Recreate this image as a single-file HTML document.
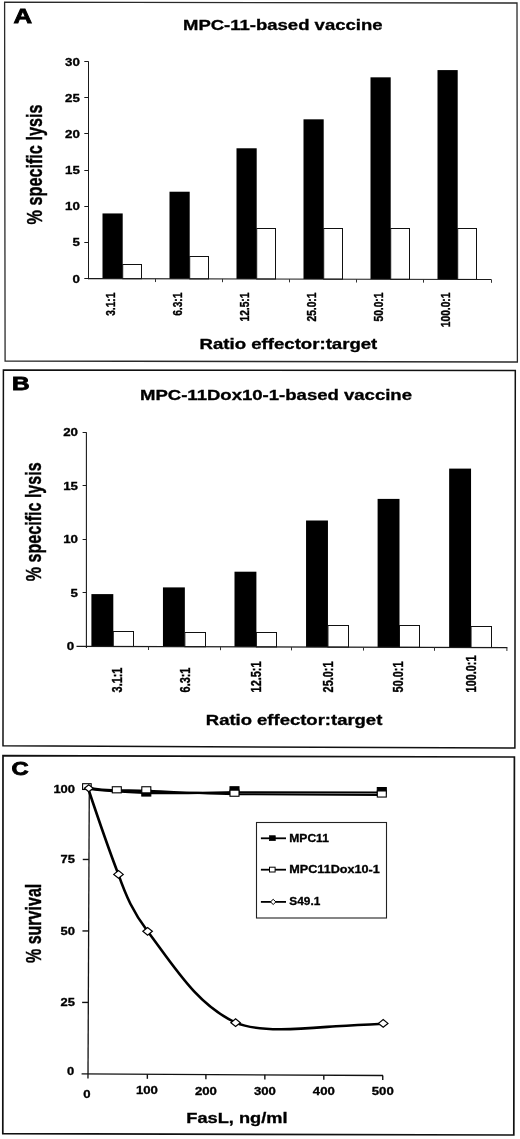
<!DOCTYPE html>
<html><head><meta charset="utf-8"><title>Figure</title>
<style>
html,body{margin:0;padding:0;background:#fff;}
svg{display:block;font-family:"Liberation Sans", sans-serif;will-change:transform;filter:grayscale(1) blur(0.25px);}
text{font-family:"Liberation Sans", sans-serif;stroke:#000;stroke-width:0.3px;}
text.pl{stroke-width:0.8px;}
</style></head><body>
<svg width="520" height="1139" viewBox="0 0 520 1139">
<rect x="0" y="0" width="520" height="1139" fill="#fff"/>
<polygon points="4.6,2.2 517.0,3.0 517.4,362.0 5.1,361.0" fill="none" stroke="#2a2a2a" stroke-width="1.3"/>
<text class="pl" x="13.6" y="23.0" font-size="19.8" font-weight="bold" text-anchor="start" fill="#000" textLength="18.6" lengthAdjust="spacingAndGlyphs">A</text>
<text x="183" y="30" font-size="14" font-weight="bold" text-anchor="start" fill="#000" textLength="199.5" lengthAdjust="spacingAndGlyphs">MPC-11-based vaccine</text>
<rect x="102.5" y="213.44" width="20.2" height="65.21" fill="#000" stroke="none" stroke-width="1"/>
<rect x="122.7" y="264.5" width="18.8" height="14.2" fill="#fff" stroke="#111" stroke-width="1"/>
<text transform="translate(115.0,292.6) rotate(-90) scale(1,1.32)" font-size="10.2" font-weight="bold" text-anchor="end">3.1:1</text>
<rect x="169.5" y="191.72" width="20.2" height="87.08" fill="#000" stroke="none" stroke-width="1"/>
<rect x="189.7" y="256.5" width="18.8" height="22.35" fill="#fff" stroke="#111" stroke-width="1"/>
<text transform="translate(182.0,292.6) rotate(-90) scale(1,1.32)" font-size="10.2" font-weight="bold" text-anchor="end">6.3:1</text>
<rect x="236.5" y="148.28" width="20.2" height="130.67" fill="#000" stroke="none" stroke-width="1"/>
<rect x="256.7" y="228.5" width="18.8" height="50.5" fill="#fff" stroke="#111" stroke-width="1"/>
<text transform="translate(249.0,292.6) rotate(-90) scale(1,1.32)" font-size="10.2" font-weight="bold" text-anchor="end">12.5:1</text>
<rect x="303.5" y="119.32" width="20.2" height="159.78" fill="#000" stroke="none" stroke-width="1"/>
<rect x="323.7" y="228.5" width="18.8" height="50.65" fill="#fff" stroke="#111" stroke-width="1"/>
<text transform="translate(316.0,292.6) rotate(-90) scale(1,1.32)" font-size="10.2" font-weight="bold" text-anchor="end">25.0:1</text>
<rect x="370.5" y="77.33" width="20.2" height="201.92" fill="#000" stroke="none" stroke-width="1"/>
<rect x="390.7" y="228.5" width="18.8" height="50.8" fill="#fff" stroke="#111" stroke-width="1"/>
<text transform="translate(383.0,292.6) rotate(-90) scale(1,1.32)" font-size="10.2" font-weight="bold" text-anchor="end">50.0:1</text>
<rect x="437.5" y="70.09" width="20.2" height="209.31" fill="#000" stroke="none" stroke-width="1"/>
<rect x="457.7" y="228.5" width="18.8" height="50.95" fill="#fff" stroke="#111" stroke-width="1"/>
<text transform="translate(450.0,292.6) rotate(-90) scale(1,1.32)" font-size="10.2" font-weight="bold" text-anchor="end">100.0:1</text>
<line x1="88.5" y1="61.4" x2="88.5" y2="279.1" stroke="#1a1a1a" stroke-width="1.0"/>
<line x1="88.0" y1="278.6" x2="491.3" y2="279.5" stroke="#1a1a1a" stroke-width="1.1"/>
<line x1="84.3" y1="278.5" x2="88.5" y2="278.5" stroke="#1a1a1a" stroke-width="1.0"/>
<text x="79.8" y="282.6" font-size="10.2" font-weight="bold" text-anchor="end" fill="#000" textLength="7.4" lengthAdjust="spacingAndGlyphs">0</text>
<line x1="84.3" y1="242.5" x2="88.5" y2="242.5" stroke="#1a1a1a" stroke-width="1.0"/>
<text x="79.8" y="246.4" font-size="10.2" font-weight="bold" text-anchor="end" fill="#000" textLength="7.4" lengthAdjust="spacingAndGlyphs">5</text>
<line x1="84.3" y1="206.5" x2="88.5" y2="206.5" stroke="#1a1a1a" stroke-width="1.0"/>
<text x="79.8" y="210.2" font-size="10.2" font-weight="bold" text-anchor="end" fill="#000" textLength="14.8" lengthAdjust="spacingAndGlyphs">10</text>
<line x1="84.3" y1="170.5" x2="88.5" y2="170.5" stroke="#1a1a1a" stroke-width="1.0"/>
<text x="79.8" y="174.0" font-size="10.2" font-weight="bold" text-anchor="end" fill="#000" textLength="14.8" lengthAdjust="spacingAndGlyphs">15</text>
<line x1="84.3" y1="133.5" x2="88.5" y2="133.5" stroke="#1a1a1a" stroke-width="1.0"/>
<text x="79.8" y="137.8" font-size="10.2" font-weight="bold" text-anchor="end" fill="#000" textLength="14.8" lengthAdjust="spacingAndGlyphs">20</text>
<line x1="84.3" y1="97.5" x2="88.5" y2="97.5" stroke="#1a1a1a" stroke-width="1.0"/>
<text x="79.8" y="101.6" font-size="10.2" font-weight="bold" text-anchor="end" fill="#000" textLength="14.8" lengthAdjust="spacingAndGlyphs">25</text>
<line x1="84.3" y1="61.5" x2="88.5" y2="61.5" stroke="#1a1a1a" stroke-width="1.0"/>
<text x="79.8" y="66.0" font-size="10.2" font-weight="bold" text-anchor="end" fill="#000" textLength="14.8" lengthAdjust="spacingAndGlyphs">30</text>
<line x1="155.5" y1="278.75" x2="155.5" y2="282.05" stroke="#333" stroke-width="1.0"/>
<line x1="222.5" y1="278.9" x2="222.5" y2="282.2" stroke="#333" stroke-width="1.0"/>
<line x1="289.5" y1="279.05" x2="289.5" y2="282.35" stroke="#333" stroke-width="1.0"/>
<line x1="356.5" y1="279.2" x2="356.5" y2="282.5" stroke="#333" stroke-width="1.0"/>
<line x1="423.5" y1="279.35" x2="423.5" y2="282.65" stroke="#333" stroke-width="1.0"/>
<line x1="491.5" y1="279.5" x2="491.5" y2="282.8" stroke="#333" stroke-width="1.0"/>
<text x="199.6" y="348.8" font-size="14" font-weight="bold" text-anchor="start" fill="#000" textLength="177.7" lengthAdjust="spacingAndGlyphs">Ratio effector:target</text>
<text transform="translate(42.4,224.5) rotate(-90) scale(1,1.4)" font-size="15.8" font-weight="bold" text-anchor="start" textLength="120" lengthAdjust="spacingAndGlyphs">% specific lysis</text>
<polygon points="3.4,369.9 515.3,370.6 514.9,748.0 3.0,745.8" fill="none" stroke="#111" stroke-width="1.5"/>
<text class="pl" x="11.9" y="389.7" font-size="18.2" font-weight="bold" text-anchor="start" fill="#000" textLength="17.6" lengthAdjust="spacingAndGlyphs">B</text>
<text x="140" y="399.6" font-size="14" font-weight="bold" text-anchor="start" fill="#000" textLength="272" lengthAdjust="spacingAndGlyphs">MPC-11Dox10-1-based vaccine</text>
<rect x="91.4" y="594.1" width="21.9" height="52.37" fill="#000" stroke="none" stroke-width="1"/>
<rect x="113.3" y="631.5" width="20.2" height="15.03" fill="#fff" stroke="#111" stroke-width="1"/>
<text transform="translate(122.1,692.4) rotate(-90) scale(1,1.28)" font-size="10.9" font-weight="bold" text-anchor="start">3.1:1</text>
<rect x="162.95" y="587.4" width="21.9" height="59.27" fill="#000" stroke="none" stroke-width="1"/>
<rect x="184.85" y="632.5" width="20.65" height="14.23" fill="#fff" stroke="#111" stroke-width="1"/>
<text transform="translate(189.9,692.4) rotate(-90) scale(1,1.28)" font-size="10.9" font-weight="bold" text-anchor="start">6.3:1</text>
<rect x="234.5" y="571.7" width="21.9" height="75.17" fill="#000" stroke="none" stroke-width="1"/>
<rect x="256.4" y="632.5" width="20.1" height="14.43" fill="#fff" stroke="#111" stroke-width="1"/>
<text transform="translate(261.3,692.4) rotate(-90) scale(1,1.28)" font-size="10.9" font-weight="bold" text-anchor="start">12.5:1</text>
<rect x="306.05" y="520.5" width="21.9" height="126.57" fill="#000" stroke="none" stroke-width="1"/>
<rect x="327.95" y="625.5" width="20.55" height="21.63" fill="#fff" stroke="#111" stroke-width="1"/>
<text transform="translate(333.0,692.4) rotate(-90) scale(1,1.28)" font-size="10.9" font-weight="bold" text-anchor="start">25.0:1</text>
<rect x="377.6" y="498.9" width="21.9" height="148.37" fill="#000" stroke="none" stroke-width="1"/>
<rect x="399.5" y="625.5" width="20.0" height="21.83" fill="#fff" stroke="#111" stroke-width="1"/>
<text transform="translate(403.0,692.4) rotate(-90) scale(1,1.28)" font-size="10.9" font-weight="bold" text-anchor="start">50.0:1</text>
<rect x="449.15" y="468.6" width="21.9" height="178.87" fill="#000" stroke="none" stroke-width="1"/>
<rect x="471.05" y="626.5" width="20.45" height="21.03" fill="#fff" stroke="#111" stroke-width="1"/>
<text transform="translate(476.2,692.4) rotate(-90) scale(1,1.28)" font-size="10.9" font-weight="bold" text-anchor="start">100.0:1</text>
<line x1="86.4" y1="432.3" x2="86.4" y2="648.0" stroke="#1a1a1a" stroke-width="1.1"/>
<line x1="76.5" y1="646.4" x2="507.4" y2="647.6" stroke="#1a1a1a" stroke-width="1.1"/>
<line x1="82.60000000000001" y1="592.5" x2="86.4" y2="592.5" stroke="#1a1a1a" stroke-width="1.0"/>
<line x1="82.60000000000001" y1="539.5" x2="86.4" y2="539.5" stroke="#1a1a1a" stroke-width="1.0"/>
<line x1="82.60000000000001" y1="485.5" x2="86.4" y2="485.5" stroke="#1a1a1a" stroke-width="1.0"/>
<line x1="82.60000000000001" y1="432.5" x2="86.4" y2="432.5" stroke="#1a1a1a" stroke-width="1.0"/>
<text x="74.2" y="650.2" font-size="10.2" font-weight="bold" text-anchor="end" fill="#000" textLength="7.4" lengthAdjust="spacingAndGlyphs">0</text>
<text x="78" y="596.65" font-size="10.2" font-weight="bold" text-anchor="end" fill="#000" textLength="7.4" lengthAdjust="spacingAndGlyphs">5</text>
<text x="78" y="543.1" font-size="10.2" font-weight="bold" text-anchor="end" fill="#000" textLength="14.8" lengthAdjust="spacingAndGlyphs">10</text>
<text x="78" y="489.55" font-size="10.2" font-weight="bold" text-anchor="end" fill="#000" textLength="14.8" lengthAdjust="spacingAndGlyphs">15</text>
<text x="78" y="436.0" font-size="10.2" font-weight="bold" text-anchor="end" fill="#000" textLength="14.8" lengthAdjust="spacingAndGlyphs">20</text>
<line x1="148.5" y1="646.6" x2="148.5" y2="650.0" stroke="#333" stroke-width="1.0"/>
<line x1="220.5" y1="646.8" x2="220.5" y2="650.2" stroke="#333" stroke-width="1.0"/>
<line x1="291.5" y1="647.0" x2="291.5" y2="650.4" stroke="#333" stroke-width="1.0"/>
<line x1="363.5" y1="647.2" x2="363.5" y2="650.6" stroke="#333" stroke-width="1.0"/>
<line x1="434.5" y1="647.4" x2="434.5" y2="650.8" stroke="#333" stroke-width="1.0"/>
<line x1="506.9" y1="647.6" x2="506.9" y2="651.0" stroke="#333" stroke-width="1.0"/>
<text x="205.8" y="725.3" font-size="14" font-weight="bold" text-anchor="start" fill="#000" textLength="176.5" lengthAdjust="spacingAndGlyphs">Ratio effector:target</text>
<text transform="translate(41.2,581.3) rotate(-90) scale(1,1.4)" font-size="15.8" font-weight="bold" text-anchor="start" textLength="119" lengthAdjust="spacingAndGlyphs">% specific lysis</text>
<polygon points="3.0,755.6 514.4,757.0 513.8,1135.0 2.8,1133.6" fill="none" stroke="#111" stroke-width="1.7"/>
<text class="pl" x="11.6" y="775.2" font-size="18.4" font-weight="bold" text-anchor="start" fill="#000" textLength="17.2" lengthAdjust="spacingAndGlyphs">C</text>
<line x1="89.29" y1="788" x2="87.98" y2="1078.6" stroke="#111" stroke-width="1.3"/>
<line x1="81.6" y1="1073.86" x2="383.0" y2="1075.52" stroke="#111" stroke-width="1.3"/>
<line x1="82.11999999999999" y1="1002.43" x2="88.32" y2="1002.43" stroke="#111" stroke-width="1.4"/>
<line x1="82.44" y1="930.95" x2="88.64" y2="930.95" stroke="#111" stroke-width="1.4"/>
<line x1="82.77" y1="859.48" x2="88.97" y2="859.48" stroke="#111" stroke-width="1.4"/>
<line x1="83.09" y1="788.0" x2="89.29" y2="788.0" stroke="#111" stroke-width="1.4"/>
<text x="74.3" y="1074.7" font-size="10.2" font-weight="bold" text-anchor="end" fill="#000" textLength="7.2" lengthAdjust="spacingAndGlyphs">0</text>
<text x="75" y="1006.23" font-size="10.2" font-weight="bold" text-anchor="end" fill="#000" textLength="14.4" lengthAdjust="spacingAndGlyphs">25</text>
<text x="75" y="934.75" font-size="10.2" font-weight="bold" text-anchor="end" fill="#000" textLength="14.4" lengthAdjust="spacingAndGlyphs">50</text>
<text x="75" y="863.28" font-size="10.2" font-weight="bold" text-anchor="end" fill="#000" textLength="14.4" lengthAdjust="spacingAndGlyphs">75</text>
<text x="75" y="793.2" font-size="10.2" font-weight="bold" text-anchor="end" fill="#000" textLength="21.6" lengthAdjust="spacingAndGlyphs">100</text>
<line x1="147.35" y1="1074.23" x2="147.35" y2="1078.83" stroke="#111" stroke-width="1.4"/>
<line x1="205.9" y1="1074.55" x2="205.9" y2="1079.1499999999999" stroke="#111" stroke-width="1.4"/>
<line x1="264.85" y1="1074.87" x2="264.85" y2="1079.4699999999998" stroke="#111" stroke-width="1.4"/>
<line x1="323.8" y1="1075.2" x2="323.8" y2="1079.8" stroke="#111" stroke-width="1.4"/>
<line x1="382.75" y1="1075.52" x2="382.75" y2="1080.12" stroke="#111" stroke-width="1.4"/>
<text x="83.35" y="1097.6" font-size="10.2" font-weight="bold" text-anchor="start" fill="#000" textLength="7.3" lengthAdjust="spacingAndGlyphs">0</text>
<text x="136.0" y="1094.3" font-size="10.2" font-weight="bold" text-anchor="start" fill="#000" textLength="21.9" lengthAdjust="spacingAndGlyphs">100</text>
<text x="194.95" y="1094.9" font-size="10.2" font-weight="bold" text-anchor="start" fill="#000" textLength="21.9" lengthAdjust="spacingAndGlyphs">200</text>
<text x="253.9" y="1095" font-size="10.2" font-weight="bold" text-anchor="start" fill="#000" textLength="21.9" lengthAdjust="spacingAndGlyphs">300</text>
<text x="312.85" y="1095" font-size="10.2" font-weight="bold" text-anchor="start" fill="#000" textLength="21.9" lengthAdjust="spacingAndGlyphs">400</text>
<text x="371.8" y="1095" font-size="10.2" font-weight="bold" text-anchor="start" fill="#000" textLength="21.9" lengthAdjust="spacingAndGlyphs">500</text>
<text x="186.3" y="1122.5" font-size="14" font-weight="bold" text-anchor="start" fill="#000" textLength="101.2" lengthAdjust="spacingAndGlyphs">FasL, ng/ml</text>
<text transform="translate(40.5,963.1) rotate(-90) scale(1,1.4)" font-size="15.8" font-weight="bold" text-anchor="start" textLength="79.4" lengthAdjust="spacingAndGlyphs">% survival</text>
<path d="M88,788 C97,815 109,850 118.4,874.4 C126,896 133,912 147.6,931.3 C175.5,968.5 197,1004.6 235.6,1022.6 C246,1027 260,1029.2 280,1029.3 C300,1029.4 318,1027.6 336,1026.2 C352,1025.2 368,1024.4 383.2,1023.7" fill="none" stroke="#000" stroke-width="2.6" stroke-linejoin="round"/>
<path d="M88,788.6 C100,790.6 125,791.8 146.5,793.0 C180,793.6 210,792.6 234.5,792.3" fill="none" stroke="#000" stroke-width="2.4"/>
<path d="M234.5,792.2 C290,792.3 340,792.4 381.8,792.5" fill="none" stroke="#000" stroke-width="1.9"/>
<path d="M88,788 C100,790 108,790.3 116.8,790.4 C128,790.6 138,790.6 146.5,790.9 C180,792.4 210,793.6 234.5,794.0" fill="none" stroke="#000" stroke-width="2.4"/>
<path d="M234.5,794.2 C290,794.5 340,794.9 381.8,795.0" fill="none" stroke="#000" stroke-width="1.9"/>
<rect x="141.8" y="789.95" width="9.0" height="6.1" fill="#000" stroke="#000" stroke-width="1.1"/>
<rect x="230.0" y="786.75" width="9.0" height="6.1" fill="#000" stroke="#000" stroke-width="1.1"/>
<rect x="377.3" y="787.55" width="9.0" height="6.1" fill="#000" stroke="#000" stroke-width="1.1"/>
<rect x="82.6" y="783.7" width="8.6" height="5.8" fill="#fff" stroke="#000" stroke-width="1.1"/>
<rect x="112.3" y="786.75" width="9.0" height="6.1" fill="#fff" stroke="#000" stroke-width="1.1"/>
<rect x="141.8" y="786.75" width="9.0" height="6.1" fill="#fff" stroke="#000" stroke-width="1.1"/>
<rect x="230.0" y="790.15" width="9.0" height="6.1" fill="#fff" stroke="#000" stroke-width="1.1"/>
<rect x="377.3" y="790.95" width="9.0" height="6.1" fill="#fff" stroke="#000" stroke-width="1.1"/>
<path d="M84.39999999999999,788.3 L88.8,784.8 L93.2,788.3 L88.8,791.8 Z" fill="#fff" stroke="#000" stroke-width="1.2"/>
<path d="M113.75,874.4 L118.5,870.55 L123.25,874.4 L118.5,878.25 Z" fill="#fff" stroke="#000" stroke-width="1.2"/>
<path d="M142.85,931.3 L147.6,927.4499999999999 L152.35,931.3 L147.6,935.15 Z" fill="#fff" stroke="#000" stroke-width="1.2"/>
<path d="M230.85,1022.7 L235.6,1018.85 L240.35,1022.7 L235.6,1026.55 Z" fill="#fff" stroke="#000" stroke-width="1.2"/>
<path d="M378.45,1023.4 L383.2,1019.55 L387.95,1023.4 L383.2,1027.25 Z" fill="#fff" stroke="#000" stroke-width="1.2"/>
<rect x="256.5" y="822.5" width="130.0" height="95.5" fill="#fff" stroke="#222" stroke-width="1.1"/>
<line x1="260.9" y1="838.3" x2="286.0" y2="838.3" stroke="#000" stroke-width="1.8"/>
<rect x="269.3" y="835.6999999999999" width="6.0" height="5.0" fill="#000" stroke="#000" stroke-width="0.6"/>
<text x="289.3" y="841.9" font-size="10.2" font-weight="bold" text-anchor="start" fill="#000" textLength="39.6" lengthAdjust="spacingAndGlyphs">MPC11</text>
<line x1="260.9" y1="869.7" x2="286.0" y2="869.7" stroke="#000" stroke-width="1.8"/>
<rect x="269.5" y="867.2" width="5.6" height="4.8" fill="#fff" stroke="#000" stroke-width="1"/>
<text x="289.3" y="873.4" font-size="10.2" font-weight="bold" text-anchor="start" fill="#000" textLength="90.4" lengthAdjust="spacingAndGlyphs">MPC11Dox10-1</text>
<line x1="260.9" y1="901.9" x2="286.0" y2="901.9" stroke="#000" stroke-width="1.8"/>
<path d="M270.5,901.9 L273.2,899.3 L275.9,901.9 L273.2,904.5 Z" fill="#fff" stroke="#000" stroke-width="1" stroke-linejoin="round"/>
<text x="289.3" y="905.4" font-size="10.2" font-weight="bold" text-anchor="start" fill="#000" textLength="31.0" lengthAdjust="spacingAndGlyphs">S49.1</text>
</svg>
</body></html>
